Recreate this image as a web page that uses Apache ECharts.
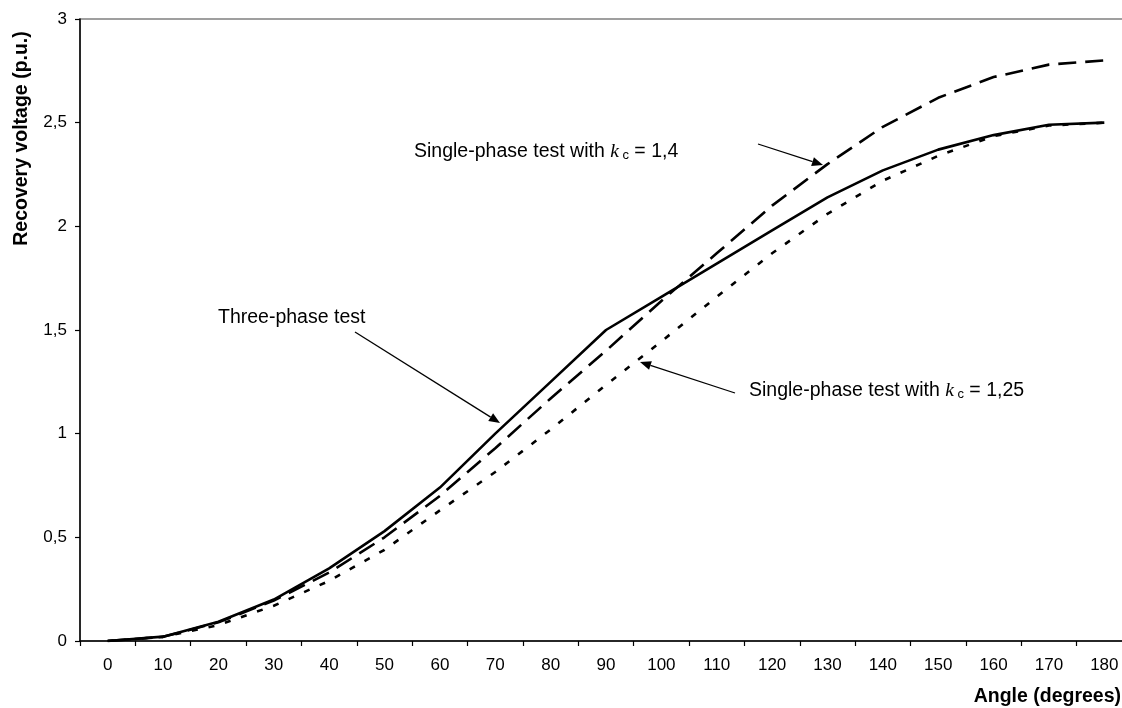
<!DOCTYPE html>
<html>
<head>
<meta charset="utf-8">
<script src="https://cdn.jsdelivr.net/npm/echarts@6/dist/echarts.min.js"></script>
<style>
html,body{margin:0;padding:0;background:#fff;overflow:hidden;width:1122px;height:708px;}
#chart{width:1133px;height:708px;}
</style>
</head>
<body>
<div id="chart"></div>
<script>
// Categories (angle, degrees)
const angles = ['0','10','20','30','40','50','60','70','80','90','100','110','120','130','140','150','160','170','180'];
// Three-phase test (solid)
const threePhase = [0, 0.021, 0.093, 0.20, 0.35, 0.53, 0.74, 1.00, 1.25, 1.50, 1.66, 1.82, 1.98, 2.14, 2.27, 2.37, 2.44, 2.49, 2.50];
// Single-phase test with kc = 1,4 (dashed)
const singleKc14 = [0, 0.02, 0.09, 0.195, 0.33, 0.50, 0.70, 0.93, 1.17, 1.40, 1.64, 1.87, 2.10, 2.30, 2.48, 2.62, 2.72, 2.78, 2.80];
// Single-phase test with kc = 1,25 (dotted)
const singleKc125 = [0, 0.02, 0.077, 0.17, 0.29, 0.44, 0.63, 0.815, 1.02, 1.235, 1.445, 1.66, 1.87, 2.06, 2.22, 2.34, 2.435, 2.486, 2.50];
// Y tick values
const yTicks = [0, 0.5, 1, 1.5, 2, 2.5, 3];

const FONT = 'Liberation Sans, Arial, sans-serif';

function arrow(from, to) {
  const dx = to[0]-from[0], dy = to[1]-from[1];
  const len = Math.sqrt(dx*dx+dy*dy);
  const ux = dx/len, uy = dy/len;
  const L = 11, W = 4.5;
  const bx = to[0]-ux*L, by = to[1]-uy*L;
  return [
    {type:'line', shape:{x1:from[0], y1:from[1], x2:bx, y2:by}, style:{stroke:'#000', lineWidth:1.3}, z:100},
    {type:'polygon', shape:{points:[[to[0],to[1]],[bx-uy*W, by+ux*W],[bx+uy*W, by-ux*W]]}, style:{fill:'#000'}, z:100}
  ];
}

function kcText(x, y, val) {
  return {
    type:'text', x:x, y:y, z:100,
    style:{
      text:'{a|Single-phase test with }{k|k}{s| c}{a| = ' + val + '}',
      verticalAlign:'middle', align:'left',
      rich:{
        a:{fontSize:19.5, fontFamily:FONT, fill:'#000', verticalAlign:'bottom'},
        k:{fontSize:19.5, fontFamily:'Liberation Serif, Times New Roman, serif', fontStyle:'italic', fill:'#000', verticalAlign:'bottom'},
        s:{fontSize:13, fontFamily:FONT, fill:'#000', verticalAlign:'bottom'}
      }
    }
  };
}

const chart = echarts.init(document.getElementById('chart'), null, {renderer:'canvas', width:1133, height:708});
const graphics = [
  {type:'text', x:22, y:138.5, rotation:Math.PI/2, z:100,
   style:{text:'Recovery voltage (p.u.)', font:'bold 19.5px '+FONT, fill:'#000', align:'center', verticalAlign:'middle'}},
  {type:'text', x:1121, y:697, z:100,
   style:{text:'Angle (degrees)', font:'bold 19.5px '+FONT, fill:'#000', align:'right', verticalAlign:'middle'}},
  {type:'text', x:218, y:318, z:100,
   style:{text:'Three-phase test', font:'19.5px '+FONT, fill:'#000', align:'left', verticalAlign:'middle'}},
  kcText(749, 391, '1,25'),
  kcText(414, 152, '1,4')
].concat(arrow([355,332],[500,423]), arrow([735,393],[640,362]), arrow([758,144],[823,165]));

chart.setOption({
  animation:false,
  backgroundColor:'#fff',
  grid:{left:80, top:19, width:1052, height:622, show:true, borderColor:'#808080', borderWidth:1.5, backgroundColor:'transparent'},
  xAxis:{
    type:'category', data:angles, boundaryGap:true,
    axisLine:{lineStyle:{color:'#000', width:1.5}},
    axisTick:{show:true, inside:false, length:5, alignWithLabel:false, lineStyle:{color:'#000', width:1.2}},
    axisLabel:{color:'#000', fontSize:17, fontFamily:FONT, margin:16, interval:0},
    splitLine:{show:false}
  },
  yAxis:{
    type:'value', min:0, max:3, interval:0.5,
    axisLine:{show:true, lineStyle:{color:'#000', width:1.5}},
    axisTick:{show:true, inside:false, length:5, lineStyle:{color:'#000', width:1.2}},
    axisLabel:{color:'#000', fontSize:17, fontFamily:FONT, margin:13,
      formatter:function(v){ return String(v).replace('.', ','); }},
    splitLine:{show:false}
  },
  series:[
    {name:'Three-phase test', type:'line', data:threePhase, symbol:'none', smooth:false,
     lineStyle:{color:'#000', width:2.6, type:'solid'}},
    {name:'Single-phase test with kc = 1,4', type:'line', data:singleKc14, symbol:'none', smooth:false,
     lineStyle:{color:'#000', width:2.6, type:[18,9]}},
    {name:'Single-phase test with kc = 1,25', type:'line', data:singleKc125, symbol:'none', smooth:false,
     lineStyle:{color:'#000', width:2.6, type:[6,11]}}
  ],
  graphic:graphics
});
</script>
</body>
</html>
